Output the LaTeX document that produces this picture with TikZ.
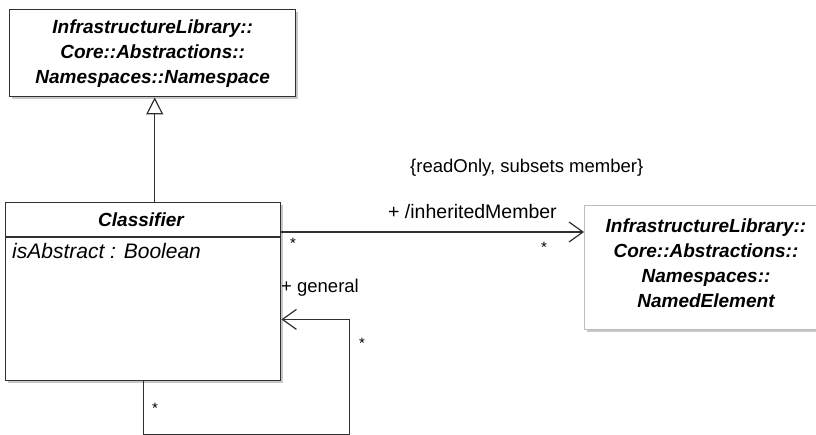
\documentclass[tikz,border=0pt]{standalone}
\usepackage{fontspec}
\setmainfont{Liberation Sans}
\usetikzlibrary{arrows.meta,calc}
\definecolor{ln}{HTML}{303030}
\definecolor{shd}{HTML}{C8C8C8}
\definecolor{lgb}{HTML}{BDBDBD}
\tikzset{
  umlbox/.style={draw=ln, line width=1.4pt, fill=white, rectangle, inner sep=0pt},
  lightbox/.style={draw=lgb, line width=1pt, fill=white, rectangle, inner sep=0pt},
  cname/.style={font=\fontsize{19}{25}\selectfont\bfseries\itshape, align=center, text=black},
  attr/.style={font=\fontsize{21}{24}\selectfont\itshape, anchor=west, inner sep=0pt},
  lbl/.style={font=\fontsize{18.5}{22}\selectfont, inner sep=0pt},
  mult/.style={font=\fontsize{15}{18}\selectfont, inner sep=0pt},
  gen/.style={draw=ln, line width=1.2pt, -{Triangle[open, length=17pt, width=17pt, fill=white, line width=1.2pt]}},
  assoc/.style={draw=ln, line width=1.2pt, -{Straight Barb[length=14pt, width=20pt, line width=1.2pt]}},
  plain/.style={draw=ln, line width=1.2pt}
}
\begin{document}
\begin{tikzpicture}[x=1pt,y=1pt]
\useasboundingbox (0,0) rectangle (816,-435);
% shadows
\fill[shd] (12,-12) rectangle (298,-99);
\fill[shd] (8,-205) rectangle (283,-383);
\fill[shd] (587,-208) rectangle (830,-332);
% top box
\node[umlbox, minimum width=286pt, minimum height=87pt, anchor=north west] (ns) at (9,-9) {};
\node[cname] (nstext) at (ns.center) {InfrastructureLibrary::\\Core::Abstractions::\\Namespaces::Namespace};
% classifier
\node[umlbox, minimum width=275pt, minimum height=178pt, anchor=north west] (cls) at (5,-202) {};
\draw[ln, line width=1.2pt] (5,-237) coordinate (hdl) -- (hdl -| cls.east);
\node[cname] (clsname) at (141,-219.5) {Classifier};
\node[attr] (clsattr) at (12,-251) {isAbstract : Boolean};
% named element
\node[lightbox, minimum width=245pt, minimum height=124pt, anchor=north west] (ne) at (584,-205) {};
\node[cname] (netext) at (706,-263) {InfrastructureLibrary::\\Core::Abstractions::\\Namespaces::\\NamedElement};
% generalization
\draw[gen] ([xshift=11.5pt]cls.north) -- ([xshift=11.5pt]cls.north |- ns.south);
% association inheritedMember
\draw[assoc] ([yshift=-30pt]cls.north east) coordinate (as) -- (as -| ne.west);
% self association general
\coordinate (lp1) at ([yshift=-53pt]cls.south);
\coordinate (lp2) at ([xshift=68pt, yshift=62pt]cls.south east);
\draw[assoc] (cls.south) -- (lp1) -| (lp2) -- (lp2 -| cls.east);
% labels
\node[lbl, anchor=west] (l1) at (410,-168) {\{readOnly, subsets member\}};
\node[lbl, anchor=west, font=\fontsize{19.5}{22}\selectfont] (l2) at (388,-212) {+ /inheritedMember};
\node[lbl, anchor=west] (l3) at (281,-288) {+ general};
\node[mult] (m1) at (293,-243) {*};
\node[mult] (m2) at (544,-247) {*};
\node[mult] (m3) at (362,-343) {*};
\node[mult] (m4) at (155,-408) {*};
\end{tikzpicture}
\end{document}
